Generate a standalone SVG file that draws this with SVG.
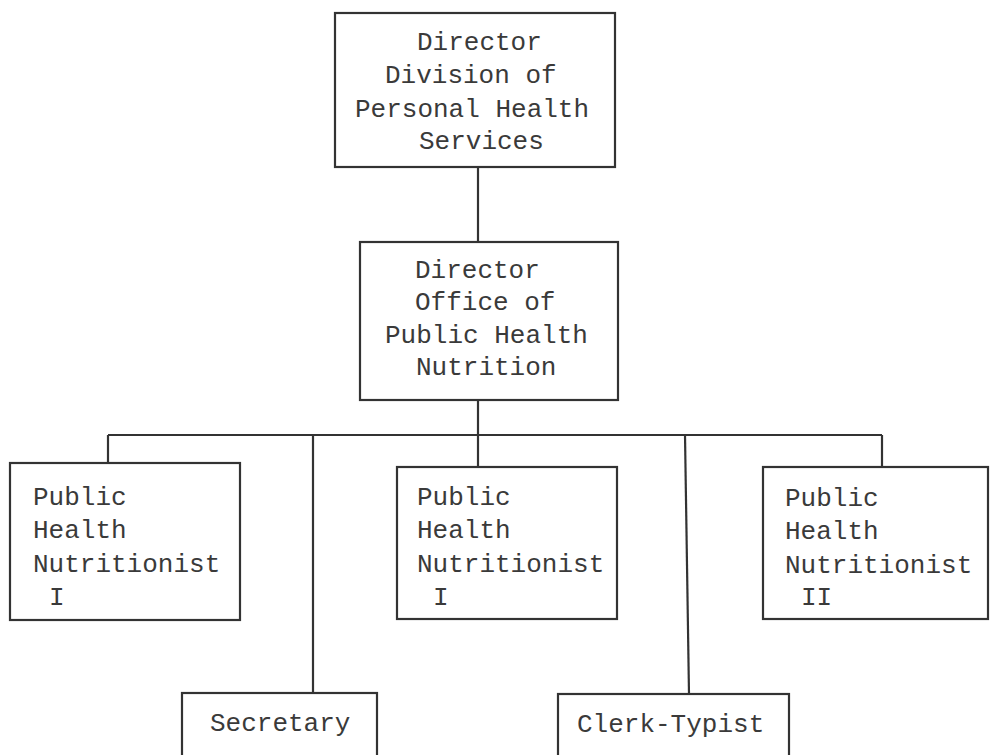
<svg xmlns="http://www.w3.org/2000/svg" width="990" height="755" viewBox="0 0 990 755">
<style>
.box{fill:#fff;stroke:#333;stroke-width:2.2}
.ln{fill:none;stroke:#333;stroke-width:2.2}
text{font-family:"Liberation Mono","Courier New",monospace;font-size:26px;fill:#3a3a3a}
</style>
<rect width="990" height="755" fill="#fff"/>
<g id="connectors">
<line class="ln" x1="478" y1="167" x2="478" y2="242"/>
<line class="ln" x1="478" y1="400" x2="478" y2="467"/>
<line class="ln" x1="108" y1="435" x2="882" y2="435"/>
<line class="ln" x1="108" y1="435" x2="108" y2="463"/>
<line class="ln" x1="313" y1="435" x2="313" y2="693"/>
<line class="ln" x1="685" y1="435" x2="689" y2="694"/>
<line class="ln" x1="882" y1="435" x2="882" y2="467"/>
</g>
<g id="director-division">
<rect class="box" x="335" y="13" width="280" height="154"/>
<text x="417" y="50">Director</text>
<text x="385" y="83">Division of</text>
<text x="355" y="117">Personal Health</text>
<text x="419" y="149">Services</text>
</g>
<g id="director-office">
<rect class="box" x="360" y="242" width="258" height="158"/>
<text x="415" y="278">Director</text>
<text x="415" y="310">Office of</text>
<text x="385" y="343">Public Health</text>
<text x="416" y="375">Nutrition</text>
</g>
<g id="phn-1a">
<rect class="box" x="10" y="463" width="230" height="157"/>
<text x="33" y="505">Public</text>
<text x="33" y="538">Health</text>
<text x="33" y="572">Nutritionist</text>
<text x="49" y="605">I</text>
</g>
<g id="phn-1b">
<rect class="box" x="397" y="467" width="220" height="152"/>
<text x="417" y="505">Public</text>
<text x="417" y="538">Health</text>
<text x="417" y="572">Nutritionist</text>
<text x="433" y="605">I</text>
</g>
<g id="phn-2">
<rect class="box" x="763" y="467" width="225" height="152"/>
<text x="785" y="506">Public</text>
<text x="785" y="539">Health</text>
<text x="785" y="573">Nutritionist</text>
<text x="801" y="605">II</text>
</g>
<g id="secretary">
<rect class="box" x="182" y="693" width="195" height="80"/>
<text x="210" y="731">Secretary</text>
</g>
<g id="clerk-typist">
<rect class="box" x="558" y="694" width="231" height="80"/>
<text x="577" y="732">Clerk-Typist</text>
</g>
</svg>
